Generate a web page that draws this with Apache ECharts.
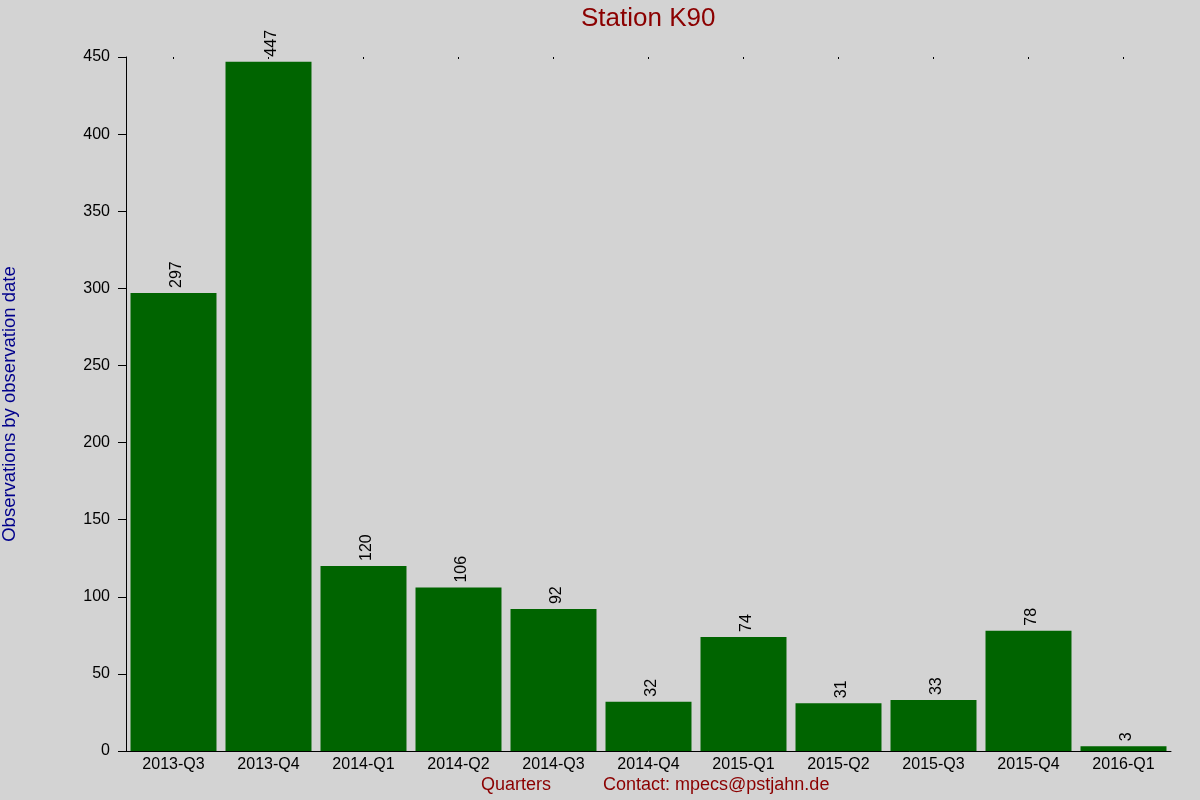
<!DOCTYPE html>
<html>
<head>
<meta charset="utf-8">
<script src="https://cdn.jsdelivr.net/npm/echarts@6/dist/echarts.min.js"></script>
<style>html,body{margin:0;padding:0;background:#d3d3d3;}#c{width:1200px;height:800px;}</style>
</head>
<body>
<div id="c"></div>
<script>
const categories = ['2013-Q3','2013-Q4','2014-Q1','2014-Q2','2014-Q3','2014-Q4','2015-Q1','2015-Q2','2015-Q3','2015-Q4','2016-Q1'];
const observations = [297,447,120,106,92,32,74,31,33,78,3];
const yTicks = { min: 0, max: 450, interval: 50 };

const chart = echarts.init(document.getElementById('c'));
const font = 'Liberation Sans, Arial, sans-serif';
chart.setOption({
  backgroundColor: '#d3d3d3',
  animation: false,
  textStyle: { fontFamily: font },
  title: {
    text: 'Station K90', left: 581, top: 6, padding: 0,
    textStyle: { color: '#8b0000', fontSize: 26, fontWeight: 'normal', fontFamily: font }
  },
  grid: { left: 126, right: 29, top: 57, bottom: 49, containLabel: false, outerBoundsMode: 'none' },
  xAxis: [{
    type: 'category', data: categories,
    axisLine: { lineStyle: { color: '#000', width: 1 } },
    axisTick: { show: false },
    axisLabel: { color: '#000', fontSize: 16, margin: 6, fontFamily: font }
  }, {
    type: 'category', data: categories, position: 'top',
    axisLine: { show: false },
    axisTick: { show: true, alignWithLabel: true, length: 2, inside: true, lineStyle: { color: '#000' } },
    axisLabel: { show: false }
  }],
  yAxis: {
    type: 'value', min: yTicks.min, max: yTicks.max, interval: yTicks.interval,
    name: 'Observations by observation date', nameLocation: 'middle', nameGap: 107,
    nameTextStyle: { color: '#00008b', fontSize: 18.5, fontFamily: font },
    axisLine: { show: true, lineStyle: { color: '#000', width: 1 } },
    axisTick: { show: true, length: 8, lineStyle: { color: '#000' } },
    axisLabel: { color: '#000', fontSize: 16, margin: 16, fontFamily: font },
    splitLine: { show: false }
  },
  series: [{
    type: 'bar', data: observations, xAxisIndex: 0,
    barCategoryGap: '9.5%',
    itemStyle: { color: '#006400' },
    label: {
      show: true, position: 'top', rotate: 90, align: 'left', verticalAlign: 'middle',
      distance: 5, offset: [0, 3], color: '#000', fontSize: 16, fontFamily: font
    }
  }],
  graphic: [
    { type: 'text', left: 481, top: 776, style: { text: 'Quarters', fill: '#8b0000', font: '18px ' + font } },
    { type: 'text', left: 603, top: 776, style: { text: 'Contact: mpecs@pstjahn.de', fill: '#8b0000', font: '18px ' + font } }
  ]
});
</script>
</body>
</html>
